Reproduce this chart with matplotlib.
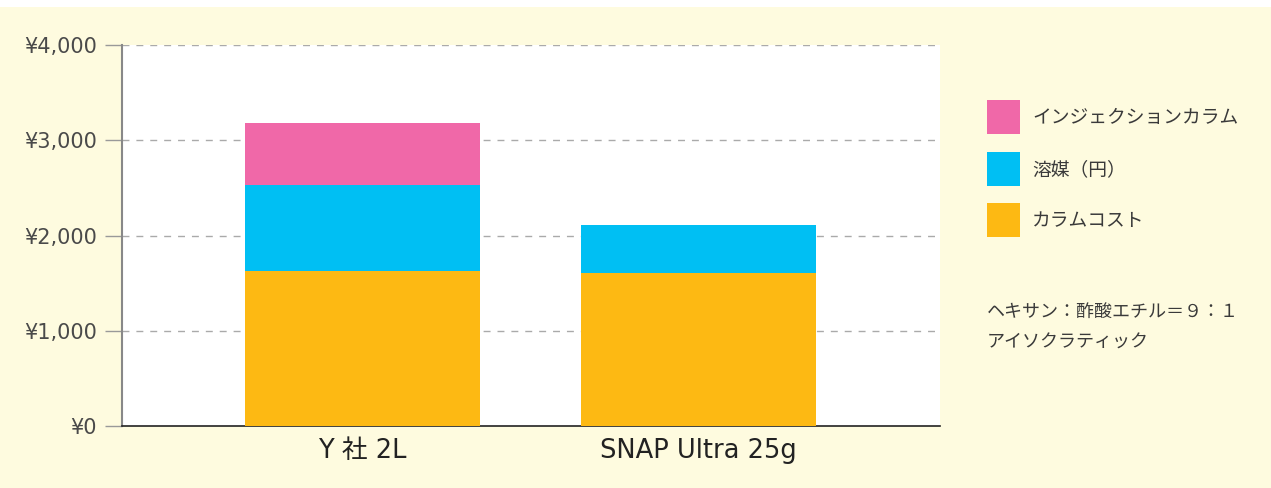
import matplotlib.pyplot as plt
from matplotlib.patches import Rectangle

plt.rcParams['font.family'] = ['Noto Sans CJK JP', 'DejaVu Sans']

# データ
products = ['Y 社 2L', 'SNAP Ultra 25g']
column_cost = [1627, 1606]
solvent_cost = [903, 504]
injection_cost = [651, 0]
series_names = ['インジェクションカラム', '溶媒（円）', 'カラムコスト']
y_ticks = [0, 1000, 2000, 3000, 4000]
y_labels = ['¥0', '¥1,000', '¥2,000', '¥3,000', '¥4,000']
note_lines = ['ヘキサン：酢酸エチル＝９：１', 'アイソクラティック']

c_pink = '#f068a8'
c_blue = '#00bff3'
c_orange = '#fdb913'
bg = '#fefbdf'
wide = ['DejaVu Sans', 'Noto Sans CJK JP']

fig = plt.figure(figsize=(12.71, 4.88), dpi=100)
fig.patch.set_facecolor(bg)
# 上の白い帯
fig.add_artist(Rectangle((0, 1 - 7 / 488), 1, 7 / 488, transform=fig.transFigure,
                         facecolor='white', edgecolor='none'))

ax = fig.add_axes([122 / 1271, 1 - 426 / 488, (940 - 122) / 1271, (426 - 45) / 488])
ax.set_facecolor('white')

x = [0, 1]
w = 0.70
ax.bar(x, column_cost, width=w, color=c_orange, zorder=3)
ax.bar(x, solvent_cost, width=w, bottom=column_cost, color=c_blue, zorder=3)
bottom2 = [a + b for a, b in zip(column_cost, solvent_cost)]
ax.bar(x, injection_cost, width=w, bottom=bottom2, color=c_pink, zorder=3)

ax.set_xlim(-0.716, 1.719)
ax.set_ylim(0, 4000)
ax.set_yticks(y_ticks)
ax.set_yticklabels(y_labels, fontsize=15, color='#4a4a4a', family='DejaVu Sans')
ax.set_xticks(x)
ax.set_xticklabels(products, fontsize=18.5, color='#222222', family=wide)
ax.tick_params(axis='x', length=0, pad=9)
ax.tick_params(axis='y', length=12, width=1, color='#999999', pad=6)

for v in y_ticks[1:]:
    ax.axhline(v, color='#aaaaaa', linestyle=(0, (5, 5)), linewidth=1, zorder=1)

for s in ['top', 'right']:
    ax.spines[s].set_visible(False)
ax.spines['left'].set_color('#888888')
ax.spines['left'].set_linewidth(1.5)
ax.spines['bottom'].set_color('#222222')
ax.spines['bottom'].set_linewidth(1.2)

# 凡例
colors = [c_pink, c_blue, c_orange]
for i, (name, c) in enumerate(zip(series_names, colors)):
    top = 100 + i * 51.5
    fig.add_artist(Rectangle((987 / 1271, 1 - (top + 34) / 488), 33 / 1271, 34 / 488,
                             transform=fig.transFigure, facecolor=c, edgecolor='none'))
    fig.text(1032 / 1271, 1 - (top + 18) / 488, name, fontsize=13.5, color='#3a3a3a',
             va='center', ha='left')

for i, line in enumerate(note_lines):
    fig.text(987 / 1271, 1 - (312 + i * 31) / 488, line, fontsize=13, color='#3a3a3a',
             va='center', ha='left')

fig.savefig('out.png', dpi=100, facecolor=bg)
